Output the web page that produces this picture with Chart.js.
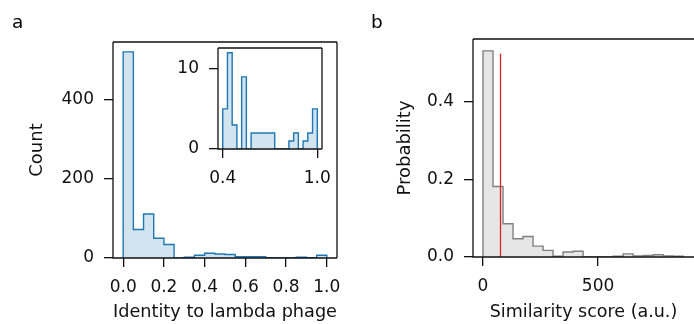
<!DOCTYPE html>
<html><head><meta charset="utf-8">
<script src="https://cdn.jsdelivr.net/npm/chart.js@4/dist/chart.umd.min.js"></script>
<style>
html,body{margin:0;padding:0;background:#fff;}
#wrap{position:relative;width:694px;height:324px;overflow:hidden;background:#fff;}
canvas{position:absolute;left:0;top:0;}
</style></head><body>
<div id="wrap">
<canvas id="cA" width="694" height="324"></canvas>
<canvas id="cInset" width="694" height="324"></canvas>
<canvas id="cB" width="694" height="324"></canvas>
</div>
<script>
// ---- data ----
const identityEdges = [0.00,0.05,0.10,0.15,0.20,0.25,0.30,0.35,0.40,0.45,0.50,0.55,0.60,0.65,0.70,0.75,0.80,0.85,0.90,0.95,1.00];
const identityCounts = [520,72,111,50,34,0,2,7,12,10,9,3,3,3,1,0,1,2,1,7];
const insetEdges = [0.40,0.43,0.46,0.49,0.52,0.55,0.58,0.61,0.64,0.67,0.70,0.73,0.76,0.79,0.82,0.85,0.88,0.91,0.94,0.97,1.00];
const insetCounts = [5,12,3,0,9,0,2,2,2,2,2,0,0,0,1,2,0,1,2,5];
const scoreEdges = [0,43.5,87,130.5,174,217.5,261,304.5,348,391.5,435,478.5,522,565.5,609,652.5,696,739.5,783,826.5,870];
const scoreProbs = [0.532,0.182,0.086,0.047,0.053,0.028,0.017,0.002,0.013,0.015,0,0,0,0.002,0.008,0.003,0.004,0.006,0.003,0.002];
const thresholdScore = 76;
const thresholdTop = 0.525;
const identityTicks = [0.0,0.2,0.4,0.6,0.8,1.0];
const countTicks = [0,200,400];
const insetXTicks = [0.4,1.0];
const insetYTicks = [0,10];
const scoreTicks = [0,500];
const probTicks = [0.0,0.2,0.4];
const axisTitles = {identity:'Identity to lambda phage', count:'Count', score:'Similarity score (a.u.)', prob:'Probability'};
const panelLabels = ['a','b'];

// ---- helpers ----
const INK = '#111';
const FONT = 'DejaVu Sans';
Chart.defaults.font.family = FONT;
Chart.defaults.font.size = 17;
Chart.defaults.color = INK;
Chart.defaults.animation = false;

function histOutline(edges, vals){
  const pts = [{x:edges[0], y:0}];
  for (let i=0;i<vals.length;i++){
    pts.push({x:edges[i], y:vals[i]});
    pts.push({x:edges[i+1], y:vals[i]});
  }
  pts.push({x:edges[edges.length-1], y:0});
  return pts;
}
function fixedTicks(list){ return s => { s.ticks = list.map(v => ({value:v})); }; }

const boxPlugin = {
  id:'box',
  beforeDraw(chart, args, opts){
    if (opts.fill){
      const a = chart.chartArea, c = chart.ctx;
      c.save(); c.fillStyle = '#fff'; c.fillRect(a.left, a.top, a.right-a.left, a.bottom-a.top); c.restore();
    }
  },
  afterDatasetsDraw(chart, args, opts){
    const a = chart.chartArea, c = chart.ctx;
    c.save(); c.strokeStyle = INK; c.lineWidth = 1.3;
    c.beginPath();
    c.moveTo(a.left, a.top); c.lineTo(a.left, a.bottom); c.lineTo(a.right, a.bottom);
    c.moveTo(a.left, a.top); c.lineTo(a.right, a.top);
    if (opts.right) { c.moveTo(a.right, a.top); c.lineTo(a.right, a.bottom); }
    c.stroke(); c.restore();
    if (opts.labels){
      c.save(); c.fillStyle = '#000'; c.font = '18.5px "'+FONT+'"'; c.textBaseline = 'alphabetic';
      opts.labels.forEach(l => c.fillText(l.t, l.x, l.y));
      c.restore();
    }
  }
};

function axisCommon(){
  return {
    grid:{drawOnChartArea:false, drawTicks:true, tickLength:9, color:INK, lineWidth:1.3},
    border:{display:false},
  };
}

// ---- panel a ----
new Chart(document.getElementById('cA'), {
  type:'line',
  data:{datasets:[{
    data: histOutline(identityEdges, identityCounts),
    borderColor:'#1f77b4', backgroundColor:'rgba(31,119,180,0.2)', borderWidth:1.4,
    fill:'origin', pointRadius:0, tension:0
  }]},
  options:{
    responsive:false, events:[],
    layout:{padding:{left:0,right:357,top:42,bottom:0}},
    plugins:{legend:{display:false}, tooltip:{enabled:false},
      box:{right:true, labels:[{t:panelLabels[0], x:12, y:28},{t:panelLabels[1], x:371, y:28}]}},
    scales:{
      x:Object.assign(axisCommon(), {type:'linear', min:-0.05, max:1.05,
        afterBuildTicks:fixedTicks(identityTicks), afterFit:s=>{s.height=66;},
        ticks:{autoSkip:false, maxRotation:0, padding:10, callback:v=>v.toFixed(1)},
        title:{display:true, text:axisTitles.identity, font:{size:18.5}, padding:{top:0,bottom:0.5}}}),
      y:Object.assign(axisCommon(), {type:'linear', min:0, max:545,
        afterBuildTicks:fixedTicks(countTicks), afterFit:s=>{s.width=113;},
        ticks:{autoSkip:false, padding:10, callback:v=>String(v)},
        title:{display:true, text:axisTitles.count, font:{size:18}, padding:{top:26.2,bottom:0}}})
    }
  },
  plugins:[boxPlugin]
});

// ---- inset ----
new Chart(document.getElementById('cInset'), {
  type:'line',
  data:{datasets:[{
    data: histOutline(insetEdges, insetCounts),
    borderColor:'#1f77b4', backgroundColor:'rgba(31,119,180,0.2)', borderWidth:1.4,
    fill:'origin', pointRadius:0, tension:0
  }]},
  options:{
    responsive:false, events:[],
    layout:{padding:{left:0,right:372,top:48,bottom:0}},
    plugins:{legend:{display:false}, tooltip:{enabled:false}, box:{right:true, fill:true}},
    scales:{
      x:Object.assign(axisCommon(), {type:'linear', min:0.37, max:1.03,
        afterBuildTicks:fixedTicks(insetXTicks), afterFit:s=>{s.height=175;},
        ticks:{autoSkip:false, maxRotation:0, padding:10, callback:v=>v.toFixed(1)}}),
      y:Object.assign(axisCommon(), {type:'linear', min:0, max:12.6,
        afterBuildTicks:fixedTicks(insetYTicks), afterFit:s=>{s.width=218;},
        ticks:{autoSkip:false, padding:10, callback:v=>String(v)}})
    }
  },
  plugins:[boxPlugin]
});

// ---- panel b ----
new Chart(document.getElementById('cB'), {
  type:'line',
  data:{datasets:[
    {data:[{x:thresholdScore,y:0},{x:thresholdScore,y:thresholdTop}],
     borderColor:'#d62728', borderWidth:1.3, fill:false, pointRadius:0},
    {data: histOutline(scoreEdges, scoreProbs),
     borderColor:'#808080', backgroundColor:'rgba(128,128,128,0.2)', borderWidth:1.4,
     fill:'origin', pointRadius:0, tension:0}
  ]},
  options:{
    responsive:false, events:[],
    layout:{padding:{left:0,right:0,top:39,bottom:0}},
    plugins:{legend:{display:false}, tooltip:{enabled:false}, box:{right:false}},
    scales:{
      x:Object.assign(axisCommon(), {type:'linear', min:-43.5, max:917,
        afterBuildTicks:fixedTicks(scoreTicks), afterFit:s=>{s.height=67;},
        ticks:{autoSkip:false, maxRotation:0, padding:10, callback:v=>String(v)},
        title:{display:true, text:axisTitles.score, font:{size:17.5}, padding:{top:0,bottom:1}}}),
      y:Object.assign(axisCommon(), {type:'linear', min:0, max:0.5626,
        afterBuildTicks:fixedTicks(probTicks), afterFit:s=>{s.width=473;},
        ticks:{autoSkip:false, padding:10, callback:v=>v.toFixed(1)},
        title:{display:true, text:axisTitles.prob, font:{size:18}, padding:{top:394.7,bottom:0}}})
    }
  },
  plugins:[boxPlugin]
});
</script>
</body></html>
